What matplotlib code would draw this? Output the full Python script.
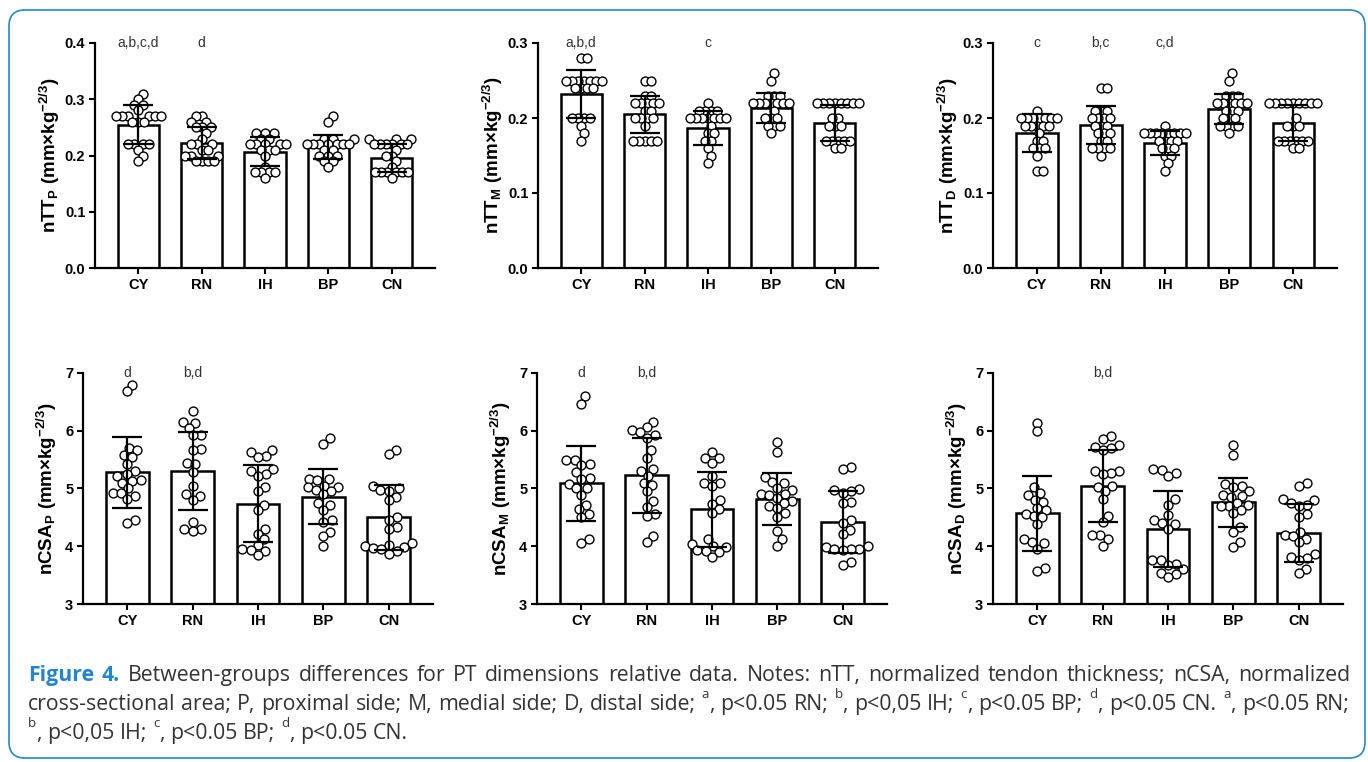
import matplotlib
matplotlib.use('Agg')
import matplotlib.pyplot as plt
from matplotlib.patches import FancyBboxPatch
from matplotlib.transforms import IdentityTransform
import numpy as np

plt.rcParams['font.family'] = ['Liberation Sans', 'DejaVu Sans']
plt.rcParams['mathtext.fontset'] = 'custom'
plt.rcParams['mathtext.rm'] = 'Liberation Sans:bold'
plt.rcParams['mathtext.it'] = 'Liberation Sans:bold'
plt.rcParams['mathtext.bf'] = 'Liberation Sans:bold'
plt.rcParams['mathtext.sf'] = 'Liberation Sans:bold'

# ------------------------------------------------------------------ data
categories = ['CY', 'RN', 'IH', 'BP', 'CN']

# nTT proximal
nttp_mean = [0.255, 0.222, 0.207, 0.215, 0.196]
nttp_sd = [0.035, 0.028, 0.026, 0.022, 0.025]
nttp_points = [
    [0.31, 0.30, 0.29, 0.29, 0.28, 0.27, 0.27, 0.27, 0.27, 0.27, 0.27, 0.26, 0.26, 0.26, 0.22, 0.22, 0.22, 0.22, 0.21, 0.20, 0.19],
    [0.27, 0.27, 0.26, 0.26, 0.25, 0.25, 0.25, 0.24, 0.23, 0.22, 0.22, 0.22, 0.21, 0.21, 0.20, 0.20, 0.20, 0.19, 0.19, 0.19, 0.19],
    [0.24, 0.24, 0.24, 0.23, 0.23, 0.22, 0.22, 0.22, 0.22, 0.22, 0.21, 0.21, 0.21, 0.20, 0.18, 0.17, 0.17, 0.17, 0.17, 0.16],
    [0.27, 0.26, 0.23, 0.23, 0.23, 0.22, 0.22, 0.22, 0.22, 0.22, 0.22, 0.22, 0.21, 0.21, 0.20, 0.20, 0.20, 0.19, 0.19, 0.18],
    [0.23, 0.23, 0.23, 0.22, 0.22, 0.22, 0.22, 0.22, 0.22, 0.21, 0.20, 0.20, 0.19, 0.18, 0.17, 0.17, 0.17, 0.17, 0.17, 0.17, 0.16],
]
nttp_letters = ['a,b,c,d', 'd', '', '', '']

# nTT medial
nttm_mean = [0.232, 0.205, 0.187, 0.213, 0.194]
nttm_sd = [0.032, 0.025, 0.023, 0.020, 0.024]
nttm_points = [
    [0.28, 0.28, 0.25, 0.25, 0.25, 0.25, 0.25, 0.25, 0.25, 0.24, 0.24, 0.24, 0.24, 0.20, 0.20, 0.20, 0.20, 0.19, 0.18, 0.17],
    [0.25, 0.25, 0.23, 0.23, 0.22, 0.22, 0.22, 0.22, 0.22, 0.21, 0.21, 0.20, 0.20, 0.20, 0.20, 0.19, 0.17, 0.17, 0.17, 0.17, 0.17],
    [0.22, 0.21, 0.21, 0.21, 0.21, 0.20, 0.20, 0.20, 0.20, 0.20, 0.20, 0.20, 0.19, 0.18, 0.18, 0.17, 0.17, 0.16, 0.15, 0.14],
    [0.26, 0.25, 0.23, 0.23, 0.23, 0.22, 0.22, 0.22, 0.22, 0.22, 0.22, 0.22, 0.21, 0.20, 0.20, 0.20, 0.19, 0.19, 0.19, 0.18],
    [0.22, 0.22, 0.22, 0.22, 0.22, 0.22, 0.22, 0.22, 0.20, 0.20, 0.19, 0.19, 0.19, 0.17, 0.17, 0.17, 0.17, 0.17, 0.16, 0.16],
]
nttm_letters = ['a,b,d', '', 'c', '', '']

# nTT distal
nttd_mean = [0.180, 0.191, 0.167, 0.212, 0.193]
nttd_sd = [0.025, 0.025, 0.016, 0.020, 0.024]
nttd_points = [
    [0.21, 0.20, 0.20, 0.20, 0.20, 0.20, 0.20, 0.20, 0.19, 0.19, 0.19, 0.19, 0.19, 0.18, 0.17, 0.17, 0.16, 0.16, 0.16, 0.15, 0.13, 0.13],
    [0.24, 0.24, 0.21, 0.21, 0.21, 0.20, 0.20, 0.20, 0.20, 0.19, 0.19, 0.19, 0.18, 0.18, 0.18, 0.17, 0.17, 0.16, 0.16, 0.16, 0.16, 0.15],
    [0.19, 0.18, 0.18, 0.18, 0.18, 0.18, 0.18, 0.18, 0.18, 0.17, 0.17, 0.17, 0.17, 0.16, 0.16, 0.16, 0.15, 0.15, 0.14, 0.13],
    [0.26, 0.25, 0.23, 0.23, 0.23, 0.22, 0.22, 0.22, 0.22, 0.22, 0.22, 0.21, 0.21, 0.21, 0.20, 0.20, 0.20, 0.19, 0.19, 0.19, 0.19, 0.18],
    [0.22, 0.22, 0.22, 0.22, 0.22, 0.22, 0.22, 0.22, 0.22, 0.20, 0.19, 0.19, 0.19, 0.17, 0.17, 0.17, 0.17, 0.17, 0.17, 0.16, 0.16],
]
nttd_letters = ['c', 'b,c', 'c,d', '', '']

# nCSA proximal
ncsap_mean = [5.28, 5.30, 4.74, 4.86, 4.50]
ncsap_sd = [0.61, 0.68, 0.66, 0.47, 0.56]
ncsap_points = [
    [6.80, 6.68, 5.70, 5.66, 5.58, 5.54, 5.42, 5.30, 5.25, 5.22, 5.14, 5.13, 5.10, 5.00, 4.93, 4.92, 4.87, 4.82, 4.46, 4.40],
    [6.35, 6.16, 6.14, 6.05, 5.93, 5.92, 5.68, 5.67, 5.45, 5.42, 5.28, 5.05, 4.90, 4.87, 4.80, 4.42, 4.30, 4.30, 4.27],
    [5.67, 5.63, 5.56, 5.54, 5.34, 5.30, 5.25, 5.22, 5.03, 4.95, 4.72, 4.62, 4.30, 4.22, 4.12, 4.02, 3.95, 3.93, 3.92, 3.85],
    [5.87, 5.77, 5.17, 5.17, 5.15, 5.05, 5.03, 5.02, 4.98, 4.95, 4.90, 4.75, 4.72, 4.63, 4.45, 4.42, 4.25, 4.17, 4.00],
    [5.66, 5.59, 5.05, 5.00, 4.97, 4.96, 4.86, 4.80, 4.50, 4.45, 4.34, 4.30, 4.05, 4.02, 4.00, 3.98, 3.97, 3.95, 3.92, 3.87],
]
ncsap_letters = ['d', 'b,d', '', '', '']

# nCSA medial
ncsam_mean = [5.09, 5.23, 4.64, 4.81, 4.42]
ncsam_sd = [0.645, 0.65, 0.645, 0.45, 0.54]
ncsam_points = [
    [6.60, 6.47, 5.50, 5.49, 5.42, 5.40, 5.28, 5.18, 5.17, 5.08, 5.01, 5.00, 4.89, 4.72, 4.64, 4.55, 4.50, 4.13, 4.06],
    [6.16, 6.07, 6.01, 5.97, 5.92, 5.87, 5.66, 5.53, 5.34, 5.30, 5.22, 5.09, 5.06, 4.95, 4.78, 4.68, 4.55, 4.52, 4.18, 4.08],
    [5.64, 5.53, 5.52, 5.44, 5.21, 5.10, 5.10, 5.05, 4.80, 4.74, 4.64, 4.57, 4.12, 4.04, 4.00, 3.98, 3.93, 3.92, 3.90, 3.82],
    [5.80, 5.64, 5.20, 5.11, 5.10, 5.00, 4.98, 4.91, 4.90, 4.89, 4.84, 4.79, 4.75, 4.70, 4.66, 4.57, 4.51, 4.27, 4.12, 4.00],
    [5.37, 5.33, 4.99, 4.97, 4.95, 4.93, 4.77, 4.75, 4.45, 4.40, 4.28, 4.22, 4.00, 3.98, 3.96, 3.95, 3.95, 3.93, 3.73, 3.68],
]
ncsam_letters = ['d', 'b,d', '', '', '']

# nCSA distal
ncsad_mean = [4.57, 5.04, 4.30, 4.76, 4.23]
ncsad_sd = [0.65, 0.625, 0.655, 0.43, 0.505]
ncsad_points = [
    [6.14, 5.99, 5.03, 4.92, 4.88, 4.80, 4.77, 4.66, 4.63, 4.55, 4.52, 4.50, 4.38, 4.12, 4.08, 4.06, 3.96, 3.63, 3.57],
    [5.91, 5.86, 5.76, 5.72, 5.70, 5.66, 5.31, 5.30, 5.26, 5.25, 5.05, 5.02, 4.95, 4.81, 4.53, 4.42, 4.20, 4.20, 4.13, 4.01],
    [5.33, 5.32, 5.26, 5.22, 4.81, 4.72, 4.54, 4.46, 4.41, 4.38, 4.30, 3.77, 3.76, 3.70, 3.68, 3.60, 3.53, 3.52, 3.46],
    [5.75, 5.58, 5.07, 5.04, 5.02, 4.96, 4.88, 4.87, 4.85, 4.75, 4.72, 4.70, 4.70, 4.62, 4.57, 4.34, 4.25, 4.08, 3.98],
    [5.09, 5.04, 4.82, 4.80, 4.75, 4.72, 4.70, 4.55, 4.50, 4.25, 4.20, 4.18, 4.13, 4.07, 3.86, 3.82, 3.80, 3.76, 3.60, 3.53],
]
ncsad_letters = ['', 'b,d', '', '', '']

ylabels = [
    r'$\mathrm{nTT_P\ (mm{\times}kg^{-2/3})}$',
    r'$\mathrm{nTT_M\ (mm{\times}kg^{-2/3})}$',
    r'$\mathrm{nTT_D\ (mm{\times}kg^{-2/3})}$',
    r'$\mathrm{nCSA_P\ (mm{\times}kg^{-2/3})}$',
    r'$\mathrm{nCSA_M\ (mm{\times}kg^{-2/3})}$',
    r'$\mathrm{nCSA_D\ (mm{\times}kg^{-2/3})}$',
]

caption_lines = [
    "Figure 4. Between-groups differences for PT dimensions relative data. Notes: nTT, normalized tendon thickness; nCSA, normalized",
    "cross-sectional area; P, proximal side; M, medial side; D, distal side; ^a, p<0.05 RN; ^b, p<0,05 IH; ^c, p<0.05 BP; ^d, p<0.05 CN. ^a, p<0.05 RN;",
    "^b, p<0,05 IH; ^c, p<0.05 BP; ^d, p<0.05 CN.",
]

# ------------------------------------------------------------------ figure
W, H = 1368, 762
fig = plt.figure(figsize=(W / 100, H / 100), dpi=100)
fig.patch.set_facecolor('white')

BLUE = '#2584d0'
TXT = '#333333'

# rounded frame
frame = FancyBboxPatch((9, H - 758), 1356, 748,
                       boxstyle='round,pad=0,rounding_size=16',
                       transform=IdentityTransform(), facecolor='none',
                       edgecolor=BLUE, linewidth=1.2)
fig.add_artist(frame)


def add_axes_px(l, t, r, b):
    return fig.add_axes([l / W, 1 - b / H, (r - l) / W, (b - t) / H])


def swarm(ax, xc, vals, dx_min, diam):
    """Greedy beeswarm in pixel space; horizontal spacing dx_min, vertical diam."""
    tr = ax.transData
    ypx = tr.transform(np.column_stack([np.zeros(len(vals)), vals]))[:, 1]
    pxx = tr.transform([[1, 0]])[0, 0] - tr.transform([[0, 0]])[0, 0]
    order = np.argsort(ypx, kind='stable')
    placed = []
    xs = np.zeros(len(vals))
    for i in order:
        y = ypx[i]
        ivs = []
        for (px, py) in placed:
            dy = abs(py - y)
            if dy < diam:
                dx = dx_min * np.sqrt(1 - (dy / diam) ** 2)
                ivs.append((px - dx, px + dx))
        cands = [0.0] + [a for a, b in ivs] + [b for a, b in ivs]
        cands.sort(key=lambda c: (round(abs(c), 6), -c))
        chosen = 0.0
        for c in cands:
            if all(not (a + 1e-6 < c < b - 1e-6) for a, b in ivs):
                chosen = c
                break
        placed.append((chosen, y))
        xs[i] = xc + chosen / pxx
    return xs


panels = [
    (nttp_points, nttp_mean, nttp_sd, nttp_letters, (0, 0.4), [0, 0.1, 0.2, 0.3, 0.4], '{:.1f}', (95, 43, 435, 268), 2.0, 6.0),
    (nttm_points, nttm_mean, nttm_sd, nttm_letters, (0, 0.3), [0, 0.1, 0.2, 0.3], '{:.1f}', (538, 43, 878, 268), 2.0, 6.0),
    (nttd_points, nttd_mean, nttd_sd, nttd_letters, (0, 0.3), [0, 0.1, 0.2, 0.3], '{:.1f}', (993, 43, 1337, 268), 2.0, 6.0),
    (ncsap_points, ncsap_mean, ncsap_sd, ncsap_letters, (3, 7), [3, 4, 5, 6, 7], '{:.0f}', (83, 373, 433, 604), 4.0, 8.5),
    (ncsam_points, ncsam_mean, ncsam_sd, ncsam_letters, (3, 7), [3, 4, 5, 6, 7], '{:.0f}', (537, 373, 887, 604), 4.0, 8.5),
    (ncsad_points, ncsad_mean, ncsad_sd, ncsad_letters, (3, 7), [3, 4, 5, 6, 7], '{:.0f}', (993, 373, 1343, 604), 4.0, 8.5),
]

for k, (pts, means, sds, letters, ylim, yticks, fmt, rect, lpad, dxm) in enumerate(panels):
    ax = add_axes_px(*rect)
    x = np.arange(len(categories))
    ax.set_xlim(-0.68, len(categories) - 1 + 0.68)
    ax.set_ylim(*ylim)
    ax.bar(x, means, width=0.65, color='white', edgecolor='black', linewidth=1.8, zorder=2)
    for i, vals in enumerate(pts):
        xs = swarm(ax, x[i], vals, dxm, 8.5)
        ax.plot(xs, vals, 'o', mfc='white', mec='black', ms=6.4, mew=1.0, zorder=3, clip_on=False)
    ax.errorbar(x, means, yerr=sds, fmt='none', ecolor='black', elinewidth=1.6,
                capsize=10.5, capthick=1.6, zorder=4)
    for i, s in enumerate(letters):
        if s:
            ax.text(x[i], ylim[1], s, ha='center', va='center', fontsize=10,
                    color=TXT, clip_on=False)
    for side in ['top', 'right']:
        ax.spines[side].set_visible(False)
    for side in ['left', 'bottom']:
        ax.spines[side].set_linewidth(1.6)
    ax.set_xticks(x)
    ax.set_xticklabels(categories, fontsize=10.5, fontweight='bold')
    ax.set_yticks(yticks)
    ax.set_yticklabels([fmt.format(v) for v in yticks], fontsize=10.5, fontweight='bold')
    ax.tick_params(axis='both', length=4, width=1.5, pad=3, direction='out')
    ax.set_ylabel(ylabels[k], fontsize=13.5, labelpad=lpad)
    ax.patch.set_alpha(0)

# ------------------------------------------------------------------ caption (justified)
renderer = fig.canvas.get_renderer()
CAP_FONT = ['Open Sans', 'DejaVu Sans']


def parse_word(w, first_blue):
    segs = []
    if first_blue:
        return [(w, 'blue')]
    if w.startswith('^'):
        segs.append((w[1], 'sup'))
        if len(w) > 2:
            segs.append((w[2:], 'norm'))
    else:
        segs.append((w, 'norm'))
    return segs


def seg_props(kind, fs):
    if kind == 'blue':
        return dict(fontsize=fs, color=BLUE, fontweight='bold', family=CAP_FONT)
    if kind == 'sup':
        return dict(fontsize=fs * 0.62, color=TXT, family=CAP_FONT)
    return dict(fontsize=fs, color=TXT, family=CAP_FONT)


def measure(s, props):
    t = fig.text(0, 0, s, **props)
    w = t.get_window_extent(renderer).width
    t.remove()
    return w


def line_words(li):
    words = caption_lines[li].split(' ')
    out = []
    for j, w in enumerate(words):
        out.append(parse_word(w, li == 0 and j < 2))
    return out


def word_width(segs, fs):
    return sum(measure(s, seg_props(kd, fs)) for s, kd in segs)


X0, X1 = 28, 1350
base_fs = 12.0
nat = []
for li in range(2):
    ws = line_words(li)
    sp = measure('x x', seg_props('norm', base_fs)) - measure('xx', seg_props('norm', base_fs))
    nat.append(sum(word_width(s, base_fs) for s in ws) + sp * (len(ws) - 1))
fs = base_fs * (X1 - X0) / max(nat) * 0.99

baselines = [681, 710, 739]
space = measure('x x', seg_props('norm', fs)) - measure('xx', seg_props('norm', fs))
for li in range(3):
    ws = line_words(li)
    widths = [word_width(s, fs) for s in ws]
    if li < 2:
        gap = (X1 - X0 - sum(widths)) / (len(ws) - 1)
    else:
        gap = space
    xcur = X0
    yb = baselines[li]
    for segs, wd in zip(ws, widths):
        xx = xcur
        for s, kd in segs:
            props = seg_props(kd, fs)
            yy = yb - (fs * 0.55 * 100 / 72 if kd == 'sup' else 0)
            fig.text(xx / W, 1 - yy / H, s, ha='left', va='baseline', **props)
            xx += measure(s, props)
        xcur += wd + gap

fig.savefig('out.png', dpi=100, facecolor='white')
